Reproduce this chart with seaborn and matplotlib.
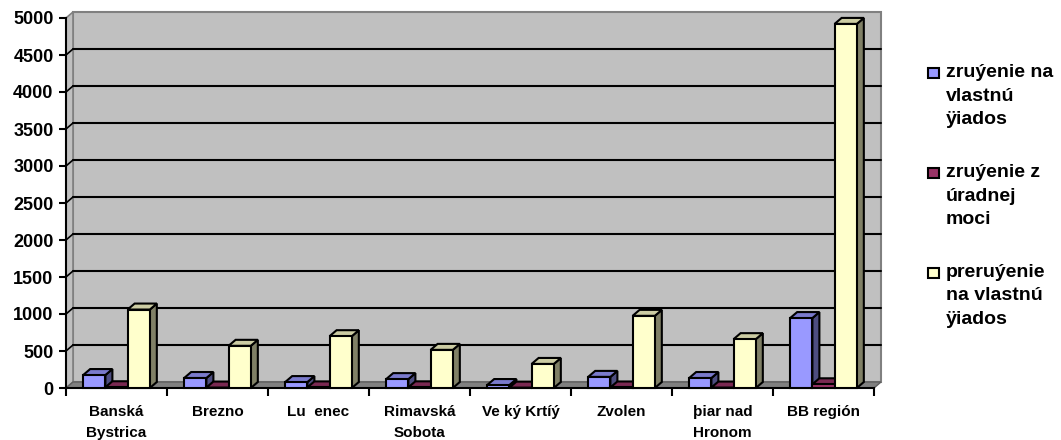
import numpy as np
import pandas as pd
import matplotlib
matplotlib.use("Agg")
import matplotlib.pyplot as plt
import seaborn as sns
from matplotlib.patches import Polygon, Rectangle
import matplotlib.transforms as mtransforms
from matplotlib.colors import to_rgb

# ---------------- data ----------------
categories = ["Banská\nBystrica", "Brezno", "Lu  enec", "Rimavská\nSobota",
              "Ve ký Krtíý", "Zvolen", "þiar nad\nHronom", "BB región"]
series_names = ["zruýenie na\nvlastnú\nÿiados",
                "zruýenie z\núradnej\nmoci",
                "preruýenie\nna vlastnú\nÿiados"]
zrusenie_vlastna = [175, 135, 80, 120, 40, 150, 135, 945]
zrusenie_urad = [10, 6, 8, 9, 5, 7, 6, 50]
prerusenie_vlastna = [1060, 570, 700, 515, 325, 975, 660, 4920]
yticks = [0, 500, 1000, 1500, 2000, 2500, 3000, 3500, 4000, 4500, 5000]
colors = ["#9999ff", "#993366", "#ffffcc"]

df = pd.DataFrame({
    "cat": categories * 3,
    "series": [series_names[0]] * 8 + [series_names[1]] * 8 + [series_names[2]] * 8,
    "val": zrusenie_vlastna + zrusenie_urad + prerusenie_vlastna,
})

sns.set_theme(style="white")
plt.rcParams["font.family"] = ["Liberation Sans", "DejaVu Sans"]

W, H = 1061, 440
fig = plt.figure(figsize=(W / 100, H / 100), dpi=100)
fig.patch.set_facecolor("white")
axl, axb, axw, axh = 66, 52, 808, 370
ax = fig.add_axes([axl / W, axb / H, axw / W, axh / H])
ax.set_facecolor("none")

sns.barplot(data=df, x="cat", y="val", hue="series", hue_order=series_names,
            order=categories, palette=colors, width=0.66, saturation=1,
            edgecolor="black", linewidth=1.5, legend=False, ax=ax, zorder=3)
bars = list(ax.patches)

ax.set_xlim(-0.5, 7.5)
ax.set_ylim(0, 5000)
ax.set_xlabel("")
ax.set_ylabel("")

# depth offsets in pixels -> data units
DXP, DYP = 7, 6
dx = DXP * 8 / axw
dy = DYP * 5000 / axh

off_axes = mtransforms.offset_copy(ax.transAxes, fig=fig, x=DXP, y=DYP, units="dots")
off_data = mtransforms.offset_copy(ax.transData, fig=fig, x=DXP, y=DYP, units="dots")

# back wall
ax.add_patch(Rectangle((0, 0), 1, 1, transform=off_axes, facecolor="#c0c0c0",
                       edgecolor="#808080", lw=1.5, zorder=0, clip_on=False))
# left side wall
ax.add_patch(Polygon([(-0.5, 0), (-0.5, 5000), (-0.5 + dx, 5000 + dy), (-0.5 + dx, dy)],
                     closed=True, facecolor="#c0c0c0", edgecolor="#808080", lw=1.2,
                     zorder=0.2, clip_on=False))
# floor
ax.add_patch(Polygon([(-0.5, 0), (7.5, 0), (7.5 + dx, dy), (-0.5 + dx, dy)],
                     closed=True, facecolor="#808080", edgecolor="#606060", lw=1.0,
                     zorder=0.3, clip_on=False))
# gridlines on back and side walls
for yv in yticks[1:-1]:
    ax.plot([-0.5, 7.5], [yv, yv], transform=off_data, color="black", lw=1.5,
            zorder=0.5, clip_on=False)
    ax.plot([-0.5, -0.5 + dx], [yv, yv + dy], color="black", lw=1.2,
            zorder=0.5, clip_on=False)

# pseudo-3D faces for each bar
order = sorted(range(len(bars)), key=lambda i: bars[i].get_x())
for rank, i in enumerate(order):
    p = bars[i]
    x, w, h = p.get_x(), p.get_width(), p.get_height()
    fc = np.array(to_rgb(p.get_facecolor()))
    z = 3 + rank * 0.01
    top = Polygon([(x, h), (x + w, h), (x + w + dx, h + dy), (x + dx, h + dy)],
                  closed=True, facecolor=fc * 0.8, edgecolor="black", lw=1.5,
                  zorder=z, clip_on=False)
    side = Polygon([(x + w, 0), (x + w + dx, dy), (x + w + dx, h + dy), (x + w, h)],
                   closed=True, facecolor=fc * 0.5, edgecolor="black", lw=1.5,
                   zorder=z, clip_on=False)
    ax.add_patch(side)
    ax.add_patch(top)
    p.set_zorder(z + 0.005)
    p.set_clip_on(False)

# spines and ticks
for s in ["top", "right"]:
    ax.spines[s].set_visible(False)
for s in ["left", "bottom"]:
    ax.spines[s].set_color("black")
    ax.spines[s].set_linewidth(1.5)
    ax.spines[s].set_zorder(2)

ax.set_yticks(yticks)
ax.set_yticklabels([str(v) for v in yticks])
ax.tick_params(axis="y", direction="out", length=5, width=1.5, pad=4,
               labelsize=13, colors="black", left=True)
ax.set_xticks(range(len(categories)))
ax.set_xticklabels(categories, fontsize=11, linespacing=1.7)
ax.set_xticks(np.arange(-0.5, 8.0, 1.0), minor=True)
ax.tick_params(axis="x", which="major", length=0, pad=12, colors="black")
ax.tick_params(axis="x", which="minor", direction="out", length=6, width=1.5,
               bottom=True, color="black")
for lab in ax.get_xticklabels() + ax.get_yticklabels():
    lab.set_fontweight("bold")
ax.grid(False)

# legend (manual, aligned to first line like the original)
tops = [64, 164, 264]
for name, col, t in zip(series_names, colors, tops):
    fig.patches.append(Rectangle((928 / W, 1 - 78 / H + (64 - t) / H), 11 / W, 10 / H,
                                 transform=fig.transFigure, facecolor=col,
                                 edgecolor="black", lw=1.5, figure=fig))
    fig.text(946 / W, 1 - t / H, name, fontsize=14, fontweight="bold",
             va="top", ha="left", linespacing=1.5, color="black")

fig.savefig("out.png", dpi=100, facecolor="white")
